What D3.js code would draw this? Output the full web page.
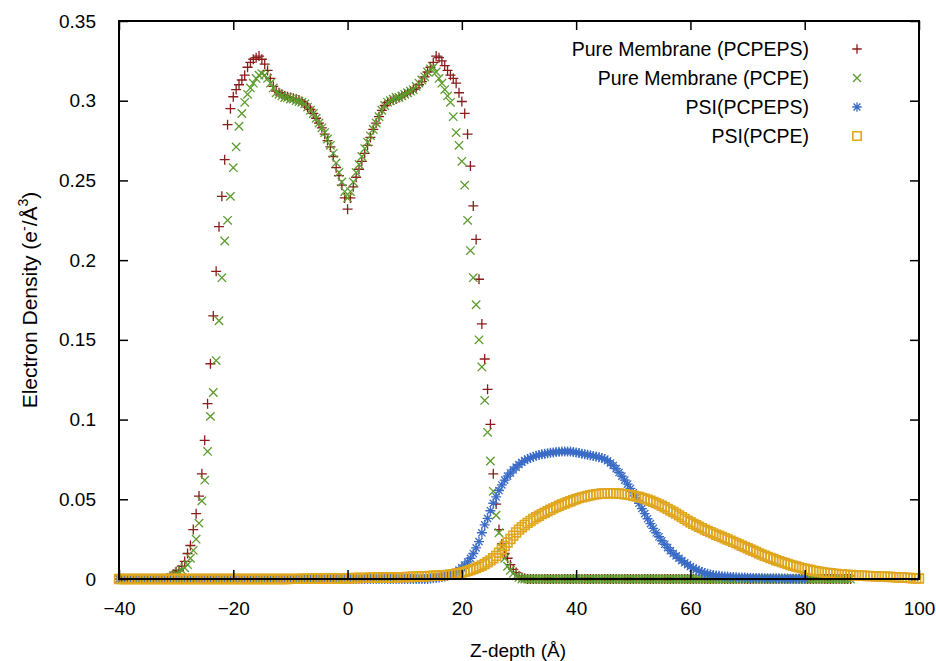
<!DOCTYPE html>
<html lang="en">
	<head>
		<meta charset="utf-8">
		<title>Electron Density Profile</title>
		<script src="https://d3js.org/d3.v7.min.js"></script>
		<style type="text/css">
			body {
				margin: 0;
				background: #ffffff;
			}
			text {
				font-family: "Liberation Sans", Arial, sans-serif;
				font-size: 19px;
				fill: #000000;
			}
		</style>
	</head>
	<body>
		<script type="text/javascript">
			// Z-depth grid: every series is sampled each 0.5 Å starting at -40 Å
			var zStart = -40;
			var zStep = 0.5;

			// Pure Membrane (PCPEPS), -40 .. 88 Å
			var pcpepsMembrane = [
				0, 0, 0, 0, 0, 0, 0, 0, 0, 0,
				0, 0, 0, 0, 0, 0, 0, 0.0005, 0.0015, 0.003,
				0.0045, 0.0055, 0.008, 0.011, 0.016, 0.021, 0.031, 0.041, 0.052, 0.066,
				0.087, 0.110, 0.135, 0.165, 0.193, 0.221, 0.240, 0.263, 0.285, 0.295,
				0.3025, 0.307, 0.310, 0.313, 0.316, 0.321, 0.324, 0.326, 0.327, 0.328,
				0.326, 0.323, 0.319, 0.314, 0.309, 0.306, 0.305, 0.304, 0.303, 0.3025,
				0.302, 0.3015, 0.301, 0.3005, 0.2995, 0.298, 0.296, 0.2945, 0.292, 0.289,
				0.286, 0.283, 0.279, 0.275, 0.271, 0.265, 0.258, 0.253, 0.247, 0.239,
				0.232, 0.239, 0.246, 0.252, 0.257, 0.262, 0.267, 0.272, 0.277, 0.282,
				0.286, 0.290, 0.294, 0.297, 0.299, 0.300, 0.3005, 0.301, 0.302, 0.303,
				0.304, 0.305, 0.306, 0.307, 0.308, 0.310, 0.312, 0.315, 0.318, 0.321,
				0.324, 0.328, 0.327, 0.325, 0.322, 0.319, 0.316, 0.314, 0.311, 0.305,
				0.2995, 0.292, 0.279, 0.259, 0.234, 0.213, 0.188, 0.160, 0.138, 0.119,
				0.097, 0.066, 0.047, 0.031, 0.022, 0.016, 0.013, 0.009, 0.006, 0.004,
				0.002, 0.001, 0.0005, 0, 0, 0, 0, 0, 0, 0,
				0, 0, 0, 0, 0, 0, 0, 0, 0, 0,
				0, 0, 0, 0, 0, 0, 0, 0, 0, 0,
				0, 0, 0, 0, 0, 0, 0, 0, 0, 0,
				0, 0, 0, 0, 0, 0, 0, 0, 0, 0,
				0, 0, 0, 0, 0, 0, 0, 0, 0, 0,
				0, 0, 0, 0, 0, 0, 0, 0, 0, 0,
				0, 0, 0, 0, 0, 0, 0, 0, 0, 0,
				0, 0, 0, 0, 0, 0, 0, 0, 0, 0,
				0, 0, 0, 0, 0, 0, 0, 0, 0, 0,
				0, 0, 0, 0, 0, 0, 0, 0, 0, 0,
				0, 0, 0, 0, 0, 0, 0
			];

			// Pure Membrane (PCPE), -40 .. 88 Å
			var pcpeMembrane = [
				0, 0, 0, 0, 0, 0, 0, 0, 0, 0,
				0, 0, 0, 0, 0, 0, 0, 0.0005, 0.001, 0.002,
				0.003, 0.0045, 0.0055, 0.007, 0.009, 0.013, 0.018, 0.025, 0.035, 0.049,
				0.062, 0.080, 0.102, 0.117, 0.137, 0.162, 0.189, 0.212, 0.225, 0.240,
				0.258, 0.271, 0.284, 0.292, 0.299, 0.304, 0.308, 0.311, 0.314, 0.316,
				0.317, 0.316, 0.314, 0.311, 0.308, 0.305, 0.304, 0.303, 0.302, 0.302,
				0.301, 0.301, 0.300, 0.2995, 0.299, 0.298, 0.296, 0.294, 0.292, 0.289,
				0.286, 0.283, 0.280, 0.276, 0.272, 0.267, 0.261, 0.255, 0.249, 0.243,
				0.239, 0.243, 0.249, 0.255, 0.260, 0.265, 0.270, 0.274, 0.278, 0.282,
				0.286, 0.290, 0.294, 0.297, 0.299, 0.300, 0.301, 0.302, 0.302, 0.303,
				0.304, 0.305, 0.306, 0.307, 0.309, 0.311, 0.313, 0.315, 0.318, 0.320,
				0.321, 0.318, 0.314, 0.311, 0.307, 0.303, 0.299, 0.290, 0.280, 0.272,
				0.262, 0.247, 0.225, 0.206, 0.189, 0.172, 0.150, 0.133, 0.112, 0.092,
				0.074, 0.055, 0.040, 0.029, 0.020, 0.013, 0.008, 0.0055, 0.0035, 0.002,
				0.001, 0, 0, 0, 0, 0, 0, 0, 0, 0,
				0, 0, 0, 0, 0, 0, 0, 0, 0, 0,
				0, 0, 0, 0, 0, 0, 0, 0, 0, 0,
				0, 0, 0, 0, 0, 0, 0, 0, 0, 0,
				0, 0, 0, 0, 0, 0, 0, 0, 0, 0,
				0, 0, 0, 0, 0, 0, 0, 0, 0, 0,
				0, 0, 0, 0, 0, 0, 0, 0, 0, 0,
				0, 0, 0, 0, 0, 0, 0, 0, 0, 0,
				0, 0, 0, 0, 0, 0, 0, 0, 0, 0,
				0, 0, 0, 0, 0, 0, 0, 0, 0, 0,
				0, 0, 0, 0, 0, 0, 0, 0, 0, 0,
				0, 0, 0, 0, 0, 0, 0
			];

			// PSI(PCPEPS), -40 .. 80 Å
			var psiPcpeps = [
				0, 0, 0, 0, 0, 0, 0, 0, 0, 0,
				0, 0, 0, 0, 0, 0, 0, 0, 0, 0,
				0, 0, 0, 0, 0, 0, 0, 0, 0, 0,
				0, 0, 0, 0, 0, 0, 0, 0, 0, 0,
				0, 0, 0, 0, 0, 0, 0, 0, 0, 0,
				0, 0, 0, 0, 0, 0, 0, 0, 0, 0,
				0, 0, 0, 0, 0, 0, 0, 0, 0, 0,
				0, 0, 0, 0, 0, 0, 0, 0, 0, 0,
				0, 0, 0, 0, 0, 0, 0, 0, 0, 0,
				0, 0, 0, 0, 0, 0, 0, 0, 0, 0,
				0, 0, 0, 0, 0, 0, 0, 0, 0, 0.0003,
				0.0005, 0.0007, 0.001, 0.0013, 0.0016, 0.002, 0.0025, 0.003, 0.0042, 0.0056,
				0.007, 0.0087, 0.0107, 0.013, 0.016, 0.0195, 0.0235, 0.029, 0.034, 0.038,
				0.0428, 0.0475, 0.0515, 0.0555, 0.059, 0.062, 0.0645, 0.0665, 0.0685, 0.0702,
				0.0718, 0.0732, 0.0743, 0.0752, 0.076, 0.0767, 0.0773, 0.0778, 0.0782, 0.0786,
				0.0789, 0.0792, 0.0794, 0.0796, 0.0798, 0.0799, 0.080, 0.080, 0.0799, 0.0797,
				0.0794, 0.079, 0.0786, 0.0782, 0.0779, 0.0776, 0.0772, 0.0768, 0.0764, 0.0759,
				0.0752, 0.0742, 0.0728, 0.0712, 0.0692, 0.0668, 0.0645, 0.062, 0.0595, 0.0568,
				0.054, 0.051, 0.0475, 0.0442, 0.041, 0.0378, 0.0347, 0.0318, 0.029, 0.0265,
				0.024, 0.0218, 0.0197, 0.0178, 0.016, 0.0145, 0.013, 0.0115, 0.0102, 0.009,
				0.0078, 0.0068, 0.0059, 0.0051, 0.0044, 0.0038, 0.0033, 0.0029, 0.0025, 0.0022,
				0.002, 0.0018, 0.0016, 0.0015, 0.0013, 0.0012, 0.0011, 0.001, 0.001, 0.0009,
				0.0008, 0.0008, 0.0007, 0.0007, 0.0006, 0.0006, 0.0005, 0.0005, 0.0005, 0.0004,
				0.0004, 0.0004, 0.0003, 0.0003, 0.0003, 0.0002, 0.0002, 0.0002, 0.0002, 0.0001,
				0.0001
			];

			// PSI(PCPE), -40 .. 100 Å
			var psiPcpe = [
				0, 0, 0, 0, 0, 0, 0, 0, 0, 0,
				0, 0, 0, 0, 0, 0, 0, 0, 0, 0,
				0, 0, 0, 0, 0, 0, 0, 0, 0, 0,
				0, 0, 0, 0, 0, 0, 0, 0, 0, 0,
				0, 0, 0, 0, 0, 0, 0, 0, 0, 0,
				0, 0, 0, 0, 0, 0, 0, 0, 0, 0,
				0.0001, 0.0001, 0.0001, 0.0001, 0.0002, 0.0002, 0.0002, 0.0002, 0.0002, 0.0003,
				0.0003, 0.0003, 0.0003, 0.0003, 0.0004, 0.0004, 0.0004, 0.0004, 0.0005, 0.0005,
				0.0005, 0.0005, 0.0006, 0.0006, 0.0006, 0.0007, 0.0007, 0.0007, 0.0008, 0.0008,
				0.0008, 0.0009, 0.0009, 0.0009, 0.001, 0.001, 0.001, 0.0011, 0.0011, 0.0012,
				0.0012, 0.0013, 0.0013, 0.0014, 0.0015, 0.0015, 0.0016, 0.0017, 0.0018, 0.0019,
				0.002, 0.0021, 0.0022, 0.0023, 0.0024, 0.0026, 0.0028, 0.003, 0.0033, 0.0036,
				0.004, 0.0045, 0.005, 0.0056, 0.0062, 0.0069, 0.0076, 0.0085, 0.0094, 0.0105,
				0.0117, 0.013, 0.0145, 0.0165, 0.0185, 0.0207, 0.0229, 0.0251, 0.0272, 0.0292,
				0.031, 0.0325, 0.0339, 0.0352, 0.0364, 0.0376, 0.0387, 0.0397, 0.0407, 0.0416,
				0.0425, 0.0434, 0.0443, 0.0451, 0.0459, 0.0467, 0.0474, 0.0481, 0.0488, 0.0495,
				0.0501, 0.0507, 0.0512, 0.0517, 0.0521, 0.0525, 0.0529, 0.0532, 0.0534, 0.0536,
				0.0537, 0.0538, 0.0538, 0.0538, 0.0537, 0.0536, 0.0534, 0.0532, 0.0529, 0.0526,
				0.0522, 0.0518, 0.0514, 0.0509, 0.0504, 0.0498, 0.0491, 0.0484, 0.0476, 0.0468,
				0.0459, 0.045, 0.044, 0.043, 0.042, 0.041, 0.0399, 0.0388, 0.0377, 0.0366,
				0.0356, 0.0346, 0.0337, 0.0328, 0.0319, 0.031, 0.0302, 0.0294, 0.0286, 0.0278,
				0.0271, 0.0263, 0.0256, 0.0248, 0.0241, 0.0233, 0.0225, 0.0217, 0.0209, 0.0201,
				0.0193, 0.0185, 0.0177, 0.0169, 0.0161, 0.0153, 0.0146, 0.0139, 0.0132, 0.0125,
				0.0118, 0.0112, 0.0106, 0.01, 0.0094, 0.0088, 0.0083, 0.0078, 0.0073, 0.0068,
				0.0064, 0.006, 0.0056, 0.0052, 0.0049, 0.0046, 0.0043, 0.004, 0.0038, 0.0036,
				0.0034, 0.0032, 0.003, 0.0029, 0.0027, 0.0026, 0.0025, 0.0024, 0.0023, 0.0022,
				0.0021, 0.002, 0.0019, 0.0018, 0.0018, 0.0017, 0.0016, 0.0016, 0.0015, 0.0014,
				0.0013, 0.0012, 0.0011, 0.001, 0.0009, 0.0008, 0.0007, 0.0006, 0.0005, 0.0004,
				0.0003
			];

			var seriesNames = ["Pure Membrane (PCPEPS)", "Pure Membrane (PCPE)", "PSI(PCPEPS)", "PSI(PCPE)"];
			var seriesValues = [pcpepsMembrane, pcpeMembrane, psiPcpeps, psiPcpe];
			var seriesColors = ["#8a1c1c", "#5c9b2c", "#3a6cc6", "#dfa61e"];
			var seriesSymbols = ["plus", "cross", "star", "square"];

			var xTicks = [-40, -20, 0, 20, 40, 60, 80, 100];
			var yTicks = [0, 0.05, 0.1, 0.15, 0.2, 0.25, 0.3, 0.35];

			// Width and height
			var w = 936;
			var h = 661;
			var margin = {top: 21, right: 17, bottom: 82, left: 119};

			var xScale = d3.scaleLinear()
				.domain([-40, 100])
				.range([margin.left, w - margin.right]);

			var yScale = d3.scaleLinear()
				.domain([0, 0.35])
				.range([h - margin.bottom, margin.top]);

			var svg = d3.select("body")
						.append("svg")
						.attr("width", w)
						.attr("height", h);

			// Marker shapes, gnuplot style (sc scales the marker for the legend)
			function symbolPath(type, sc) {
				sc = sc || 1;
				var s;
				if (type == "plus") {
					s = 5 * sc;
					return "M" + (-s) + ",0H" + s + "M0," + (-s) + "V" + s;
				}
				if (type == "cross") {
					s = 4.2 * sc;
					return "M" + (-s) + "," + (-s) + "L" + s + "," + s + "M" + (-s) + "," + s + "L" + s + "," + (-s);
				}
				if (type == "star") {
					s = 5 * sc;
					var d = 3.6 * sc;
					return "M" + (-s) + ",0H" + s + "M0," + (-s) + "V" + s +
						"M" + (-d) + "," + (-d) + "L" + d + "," + d + "M" + (-d) + "," + d + "L" + d + "," + (-d);
				}
				s = 4.4 * sc;
				return "M" + (-s) + "," + (-s) + "H" + s + "V" + s + "H" + (-s) + "Z";
			}

			// Data points (drawn in gnuplot order so the last series sits on top)
			var plot = svg.append("g");

			seriesValues.forEach(function(values, k) {
				var points = values.map(function(v, i) {
					return {z: zStart + i * zStep, v: v};
				});
				plot.append("g")
					.attr("class", "series")
					.selectAll("path")
					.data(points)
					.enter()
					.append("path")
					.attr("transform", function(d) {
						return "translate(" + xScale(d.z) + "," + yScale(d.v) + ")";
					})
					.attr("d", symbolPath(seriesSymbols[k]))
					.attr("fill", "none")
					.attr("stroke", seriesColors[k])
					.attr("stroke-width", seriesSymbols[k] == "square" ? 1.6 : 1.3);
			});

			// Axes: ticks inside the frame, mirrored on top and right
			var tickLen = 9;

			svg.append("g")
				.attr("transform", "translate(0," + (h - margin.bottom) + ")")
				.call(d3.axisBottom(xScale).tickValues(xTicks).tickSize(-tickLen).tickPadding(tickLen + 14).tickFormat(d3.format("d")))
				.call(function(g) { g.select(".domain").remove(); });

			svg.append("g")
				.attr("transform", "translate(0," + margin.top + ")")
				.call(d3.axisTop(xScale).tickValues(xTicks).tickSize(-tickLen).tickFormat(""))
				.call(function(g) { g.select(".domain").remove(); });

			svg.append("g")
				.attr("transform", "translate(" + margin.left + ",0)")
				.call(d3.axisLeft(yScale).tickValues(yTicks).tickSize(-tickLen).tickPadding(tickLen + 14).tickFormat(function(d) { return String(+d.toFixed(2)); }))
				.call(function(g) { g.select(".domain").remove(); });

			svg.append("g")
				.attr("transform", "translate(" + (w - margin.right) + ",0)")
				.call(d3.axisRight(yScale).tickValues(yTicks).tickSize(-tickLen).tickFormat(""))
				.call(function(g) { g.select(".domain").remove(); });

			svg.selectAll(".tick line")
				.attr("stroke", "#000")
				.attr("stroke-width", 1.5);

			svg.selectAll(".tick text")
				.style("font-size", "19px")
				.style("font-family", "'Liberation Sans', Arial, sans-serif");

			// Frame
			svg.append("rect")
				.attr("x", margin.left)
				.attr("y", margin.top)
				.attr("width", w - margin.left - margin.right)
				.attr("height", h - margin.top - margin.bottom)
				.attr("fill", "none")
				.attr("stroke", "#000")
				.attr("stroke-width", 2);

			// Axis titles
			svg.append("text")
				.attr("text-anchor", "middle")
				.attr("x", 518)
				.attr("y", 657)
				.text("Z-depth (Å)");

			var yTitle = svg.append("text")
				.attr("text-anchor", "middle")
				.attr("transform", "translate(37,300) rotate(-90)")
				.style("font-size", "21px");
			yTitle.append("tspan").text("Electron Density (e");
			yTitle.append("tspan").attr("dy", -8).style("font-size", "14px").text("-");
			yTitle.append("tspan").attr("dy", 8).text("/Å");
			yTitle.append("tspan").attr("dy", -9).style("font-size", "14px").text("3");
			yTitle.append("tspan").attr("dy", 9).text(")");

			// Legend
			var legend = svg.selectAll(".legend")
				.data(seriesNames)
				.enter()
				.append("g")
				.attr("class", "legend")
				.attr("transform", function(d, i) {
					return "translate(0," + (49 + i * 29) + ")";
				});

			legend.append("text")
				.attr("x", 809)
				.attr("y", 0)
				.attr("dy", "0.35em")
				.attr("text-anchor", "end")
				.style("font-size", "19.5px")
				.text(function(d) { return d; });

			legend.append("path")
				.attr("transform", "translate(857,0)")
				.attr("d", function(d, i) { return symbolPath(seriesSymbols[i], 0.95); })
				.attr("fill", "none")
				.attr("stroke", function(d, i) { return seriesColors[i]; })
				.attr("stroke-width", function(d, i) { return seriesSymbols[i] == "square" ? 1.6 : 1.3; });
		</script>
	</body>
</html>
